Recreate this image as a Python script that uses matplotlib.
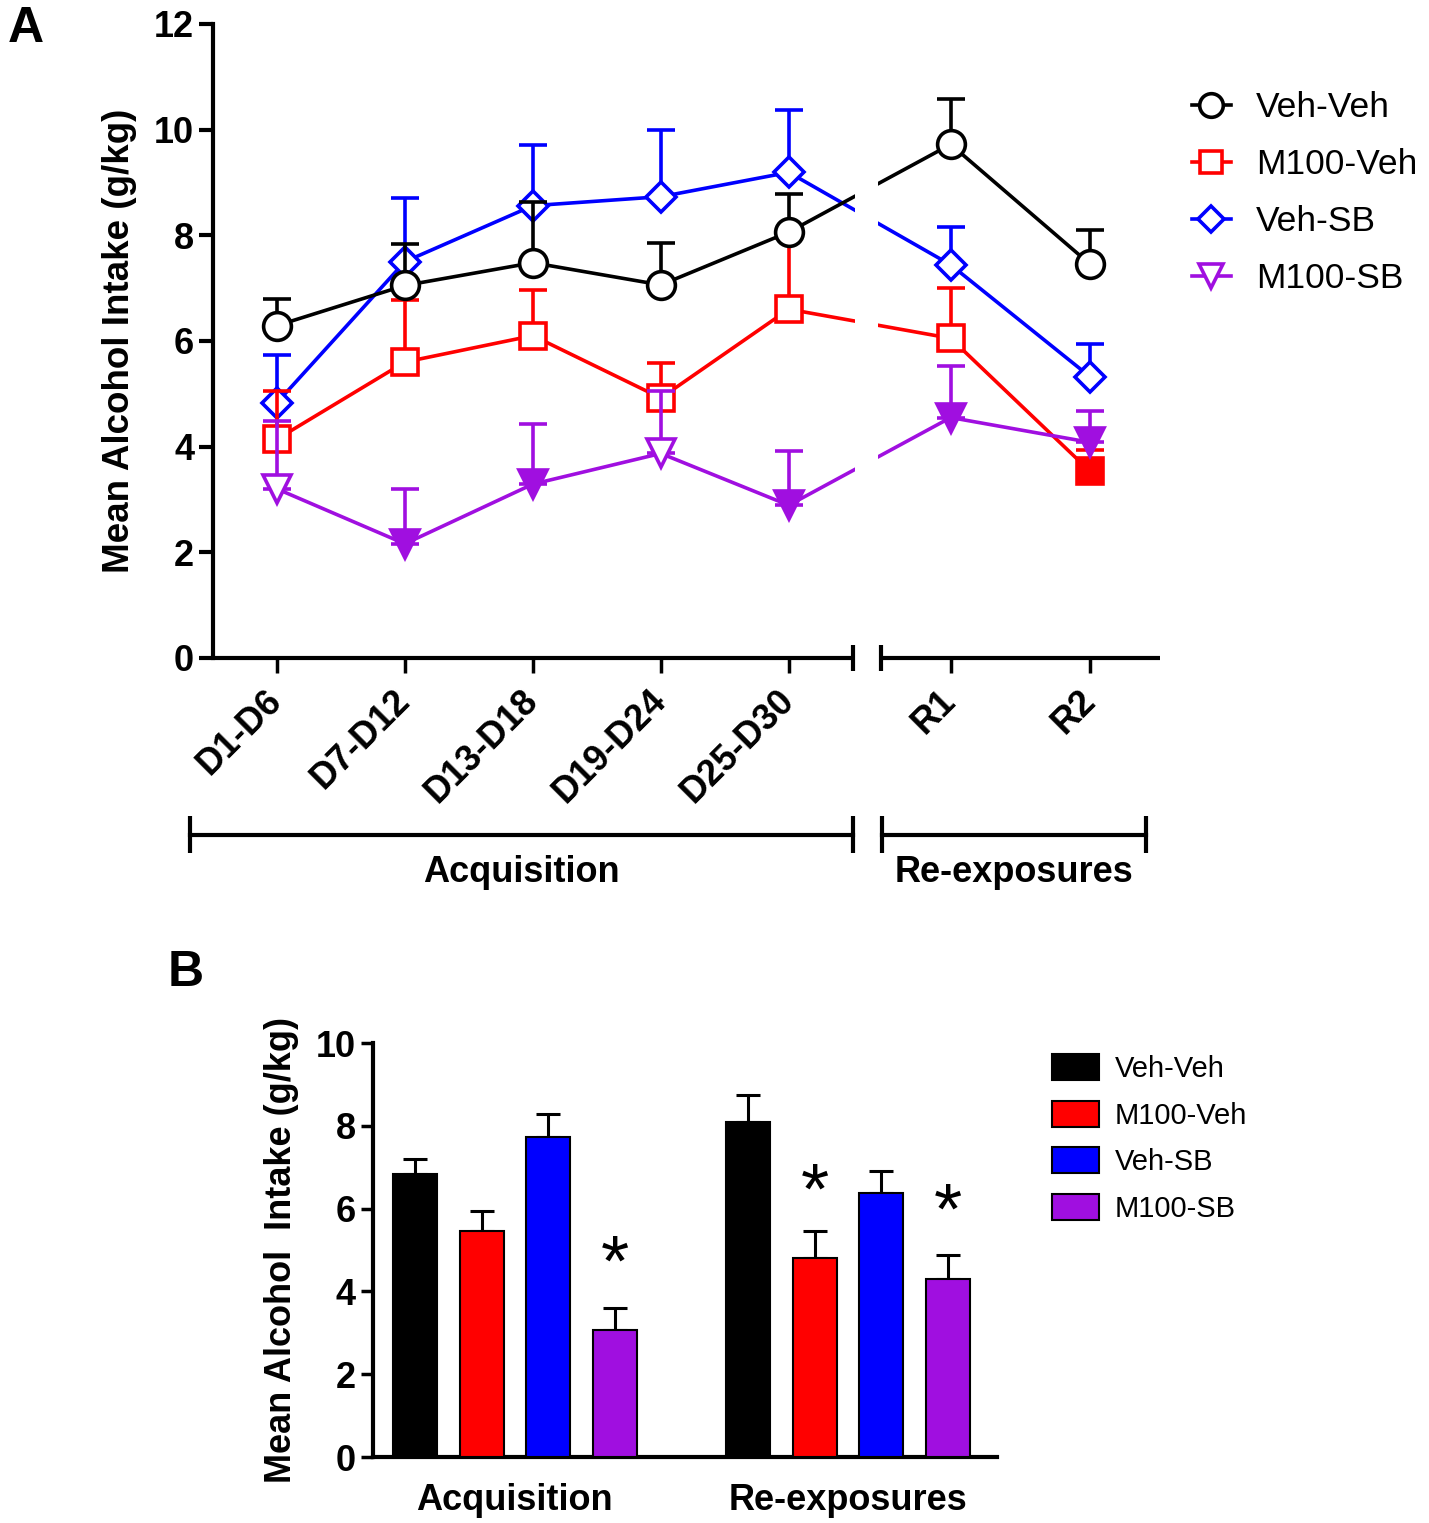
import numpy as np
import matplotlib
matplotlib.use("Agg")
import matplotlib.pyplot as plt
from matplotlib.lines import Line2D
from matplotlib.patches import Patch

plt.rcParams['font.family'] = ['Liberation Sans', 'DejaVu Sans']

# ---------------------------------------------------------------------------
# Data
groups = ['Veh-Veh', 'M100-Veh', 'Veh-SB', 'M100-SB']
periods_acq = ['D1-D6', 'D7-D12', 'D13-D18', 'D19-D24', 'D25-D30']
periods_re = ['R1', 'R2']

veh_veh_mean = [6.29, 7.05, 7.48, 7.06, 8.06, 9.72, 7.45]
veh_veh_err = [0.50, 0.78, 1.15, 0.79, 0.73, 0.86, 0.65]
m100_veh_mean = [4.14, 5.60, 6.10, 4.92, 6.60, 6.05, 3.53]
m100_veh_err = [0.92, 1.18, 0.87, 0.67, 1.35, 0.95, 0.40]
veh_sb_mean = [4.83, 7.50, 8.56, 8.73, 9.19, 7.44, 5.32]
veh_sb_err = [0.90, 1.20, 1.15, 1.26, 1.18, 0.71, 0.62]
m100_sb_mean = [3.20, 2.16, 3.29, 3.87, 2.89, 4.55, 4.08]
m100_sb_err = [1.28, 1.03, 1.14, 1.18, 1.03, 0.97, 0.59]

# filled symbols (significance marks in panel A)
m100_veh_filled = [False, False, False, False, False, False, True]
m100_sb_filled = [False, True, True, False, True, True, True]

# Panel B: phase means
phases = ['Acquisition', 'Re-exposures']
bar_mean = {
    'Veh-Veh': [6.83, 8.10],
    'M100-Veh': [5.47, 4.80],
    'Veh-SB': [7.73, 6.38],
    'M100-SB': [3.06, 4.30],
}
bar_err = {
    'Veh-Veh': [0.38, 0.64],
    'M100-Veh': [0.48, 0.67],
    'Veh-SB': [0.56, 0.54],
    'M100-SB': [0.53, 0.59],
}
# asterisks: (phase index, group, height)
stars = [(0, 'M100-SB', 4.59), (1, 'M100-Veh', 6.33), (1, 'M100-SB', 5.85)]

colors = {'Veh-Veh': '#000000', 'M100-Veh': '#ff0000',
          'Veh-SB': '#0000ff', 'M100-SB': '#a00fe0'}
markers = {'Veh-Veh': 'o', 'M100-Veh': 's', 'Veh-SB': 'D', 'M100-SB': 'v'}
msizes = {'Veh-Veh': 20, 'M100-Veh': 19, 'Veh-SB': 15, 'M100-SB': 20}

# ---------------------------------------------------------------------------
fig = plt.figure(figsize=(14.29, 15.23), dpi=100)

# ---------------- Panel A ----------------
axA = fig.add_axes([0.149, 0.568, 0.6627, 0.4163])

gap_lo, gap_hi = 4.5, 4.72
re_slot = 1.09
x_acq = np.arange(len(periods_acq))
x_re = gap_hi + (np.arange(len(periods_re)) + 0.5) * re_slot
xpos = np.concatenate([x_acq, x_re])
x_end = gap_hi + len(periods_re) * re_slot

series = {
    'Veh-Veh': (veh_veh_mean, veh_veh_err, [False] * 7),
    'M100-Veh': (m100_veh_mean, m100_veh_err, m100_veh_filled),
    'Veh-SB': (veh_sb_mean, veh_sb_err, [False] * 7),
    'M100-SB': (m100_sb_mean, m100_sb_err, m100_sb_filled),
}
draw_order = ['Veh-SB', 'M100-Veh', 'Veh-Veh', 'M100-SB']
lw = 2.6
for k, name in enumerate(draw_order):
    mean, err, filled = series[name]
    mean = np.array(mean)
    err = np.array(err)
    filled = np.array(filled)
    c = colors[name]
    z = 3 + k
    axA.errorbar(xpos, mean, yerr=[np.zeros_like(err), err], fmt='none',
                 ecolor=c, elinewidth=lw, capsize=10, capthick=lw, zorder=z)
    axA.plot(xpos, mean, '-', color=c, lw=lw, zorder=z)
    axA.plot(xpos[~filled], mean[~filled], linestyle='none',
             marker=markers[name], ms=msizes[name], mfc='white', mec=c,
             mew=lw, zorder=z + 0.5)
    if filled.any():
        axA.plot(xpos[filled], mean[filled], linestyle='none',
                 marker=markers[name], ms=msizes[name], mfc=c, mec=c,
                 mew=lw, zorder=z + 0.5)

# white gap for the axis break
axA.axvspan(gap_lo + 0.02, gap_hi - 0.02, color='white', zorder=20, lw=0)

axA.set_xlim(-0.5, x_end)
axA.set_ylim(0, 12)
axA.set_yticks(np.arange(0, 13, 2))
axA.spines['top'].set_visible(False)
axA.spines['right'].set_visible(False)
axA.spines['bottom'].set_visible(False)
axA.spines['left'].set_linewidth(3)

# broken x axis
axA.plot([-0.5, gap_lo], [0, 0], color='black', lw=3, clip_on=False,
         zorder=21, solid_capstyle='butt')
axA.plot([gap_hi, x_end], [0, 0], color='black', lw=3, clip_on=False,
         zorder=21, solid_capstyle='butt')
axA.vlines([gap_lo, gap_hi], -0.25, 0.25, color='black', lw=3,
           clip_on=False, zorder=21)

axA.set_xticks(xpos)
axA.set_xticklabels(periods_acq + periods_re, rotation=45, ha='right',
                    va='center', rotation_mode='anchor',
                    fontsize=26, fontweight='bold')
axA.tick_params(axis='x', length=11, width=2.5, pad=16)
axA.tick_params(axis='y', length=10, width=3, labelsize=26)
for t in axA.get_yticklabels():
    t.set_fontweight('bold')
axA.set_ylabel('Mean Alcohol Intake (g/kg)', fontsize=26.5,
               fontweight='bold', labelpad=12)

# phase brackets
yb = -3.35
for x0, x1, lab in [(-0.68, gap_lo, 'Acquisition'),
                    (gap_hi + 0.01, 6.79, 'Re-exposures')]:
    axA.plot([x0, x1], [yb, yb], color='black', lw=3, clip_on=False)
    axA.vlines([x0, x1], yb - 0.35, yb + 0.35, color='black', lw=3,
               clip_on=False)
    axA.text((x0 + x1) / 2, yb - 0.72, lab, ha='center', va='center',
             fontsize=26, fontweight='bold', clip_on=False)

handlesA = [Line2D([], [], color=colors[g], lw=lw, marker=markers[g],
                   ms=msizes[g] * 0.85, mfc='white', mec=colors[g], mew=lw)
            for g in groups]
fig.legend(handlesA, groups, loc='upper left',
           bbox_to_anchor=(1192 / 1429, 1 - 91 / 1523), frameon=False,
           fontsize=25.5, handlelength=1.1, handletextpad=0.7,
           labelspacing=0.68, borderpad=0, borderaxespad=0)

# ---------------- Panel B ----------------
axB = fig.add_axes([0.261, 0.0433, 0.4367, 0.2718])
width = 0.66
for p in range(len(phases)):
    for i, g in enumerate(groups):
        x = p * (len(groups) + 1) + i
        axB.bar(x, bar_mean[g][p], width=width, color=colors[g],
                edgecolor='black', lw=1.5, zorder=3)
        axB.errorbar(x, bar_mean[g][p], yerr=[[0], [bar_err[g][p]]],
                     fmt='none', ecolor='black', elinewidth=2.2, capsize=8.5,
                     capthick=2.2, zorder=2)

for p, g, h in stars:
    x = p * (len(groups) + 1) + groups.index(g)
    axB.text(x, h, '*', ha='center', va='center', fontsize=52)

axB.set_xlim(-0.63, 8.74)
axB.set_ylim(0, 10)
axB.set_yticks(np.arange(0, 11, 2))
axB.set_xticks([(len(groups) - 1) / 2 + p * (len(groups) + 1)
                for p in range(len(phases))])
axB.set_xticklabels(phases, fontsize=26, fontweight='bold')
axB.tick_params(axis='x', length=0, pad=19)
axB.tick_params(axis='y', length=9, width=2.5, labelsize=26)
for t in axB.get_yticklabels():
    t.set_fontweight('bold')
axB.spines['top'].set_visible(False)
axB.spines['right'].set_visible(False)
axB.spines['left'].set_linewidth(3)
axB.spines['bottom'].set_linewidth(3)
axB.set_ylabel('Mean Alcohol  Intake (g/kg)', fontsize=26,
               fontweight='bold', labelpad=12)

handlesB = [Patch(facecolor=colors[g], edgecolor='black', lw=1.5)
            for g in groups]
fig.legend(handlesB, groups, loc='upper left',
           bbox_to_anchor=(1052 / 1429, 1 - 1054 / 1523), frameon=False,
           fontsize=21, handlelength=1.6, handleheight=1.0,
           handletextpad=0.55, labelspacing=0.6, borderpad=0,
           borderaxespad=0)

# panel letters
fig.text(8 / 1429, 1 - 6 / 1523, 'A', fontsize=36, fontweight='bold',
         ha='left', va='top')
fig.text(168 / 1429, 1 - 950 / 1523, 'B', fontsize=36, fontweight='bold',
         ha='left', va='top')

fig.savefig('out.png', dpi=100)
